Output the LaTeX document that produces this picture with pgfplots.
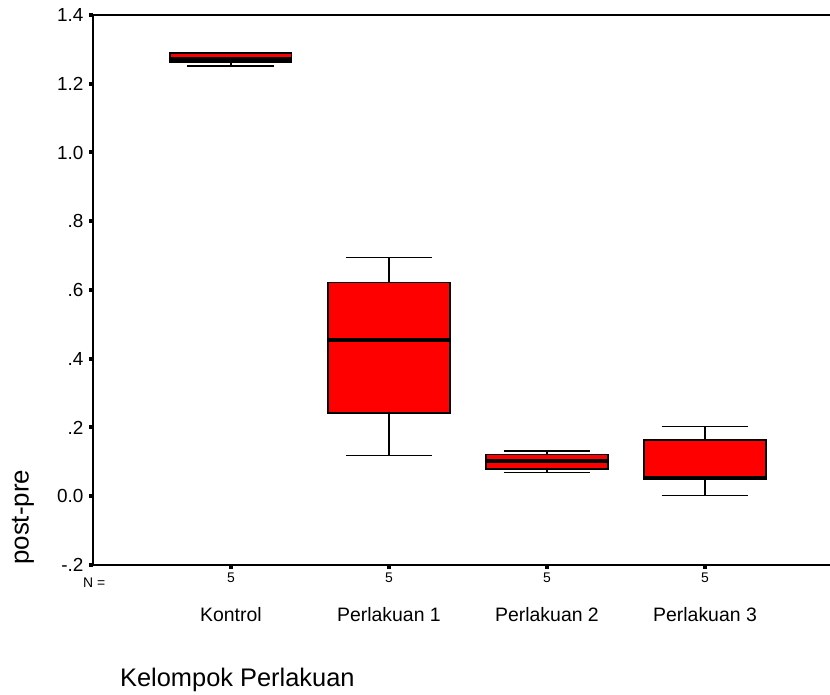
\documentclass[border=0pt]{standalone}
\usepackage{fontspec}
\setmainfont{Liberation Sans}
\usepackage{pgfplots}
\pgfplotsset{compat=1.18}
\usepgfplotslibrary{statistics}
\newcommand{\yl}[1]{{\fontsize{19}{20}\selectfont #1}}
\newcommand{\xl}[1]{{\fontsize{14}{15}\selectfont #1}}
\begin{document}
\begin{tikzpicture}
\begin{axis}[
  /pgf/number format/assume math mode=true,
  at={(93bp,130bp)}, anchor=south west,
  scale only axis, width=740bp, height=550bp,
  xmin=-0.873, xmax=3.81, ymin=-0.2, ymax=1.4,
  clip=false,
  axis line style={line width=1.8bp, black},
  tick align=outside,
  major tick length=4bp,
  every tick/.style={line width=4bp, black},
  xtick={0,1,2,3}, xticklabels={\xl{5},\xl{5},\xl{5},\xl{5}},
  xtick pos=bottom,
  ytick={-0.2,0,0.2,0.4,0.6,0.8,1.0,1.2,1.4},
  yticklabels={\yl{-.2},\yl{0.0},\yl{.2},\yl{.4},\yl{.6},\yl{.8},\yl{1.0},\yl{1.2},\yl{1.4}},
  ytick pos=left,
  xticklabel style={font=\fontsize{14}{15}\selectfont},
  yticklabel style={font=\fontsize{19}{20}\selectfont, xshift=-2bp},
  boxplot/draw direction=y,
  boxplot/every box/.style={draw=black, fill=red, line width=1.4bp},
  boxplot/every whisker/.style={black, line width=1.6bp},
  boxplot/every median/.style={black, line width=4.5bp},
  boxplot/box extend=0.77,
  boxplot/whisker extend=0.55,
]
\addplot+[mark=none, boxplot prepared={draw position=0,
  lower whisker=1.251, lower quartile=1.261, median=1.270,
  upper quartile=1.290, upper whisker=1.290}] coordinates {};
\addplot+[mark=none, boxplot prepared={draw position=1,
  lower whisker=0.119, lower quartile=0.242, median=0.454,
  upper quartile=0.621, upper whisker=0.694}] coordinates {};
\addplot+[mark=none, boxplot prepared={draw position=2,
  lower whisker=0.069, lower quartile=0.079, median=0.102,
  upper quartile=0.121, upper whisker=0.131}] coordinates {};
\addplot+[mark=none, boxplot prepared={draw position=3,
  lower whisker=0.002, lower quartile=0.048, median=0.053,
  upper quartile=0.164, upper whisker=0.203}] coordinates {};
\node at (axis cs:-0.865,-0.2523) {\xl{N =}};
\node[font=\fontsize{19.5}{21}\selectfont] at (axis cs:0,-0.3456) {Kontrol};
\node[font=\fontsize{19.5}{21}\selectfont] at (axis cs:1,-0.3456) {Perlakuan 1};
\node[font=\fontsize{19.5}{21}\selectfont] at (axis cs:2,-0.3456) {Perlakuan 2};
\node[font=\fontsize{19.5}{21}\selectfont] at (axis cs:3,-0.3456) {Perlakuan 3};
\node[font=\fontsize{25.5}{27}\selectfont, anchor=west, inner sep=0pt] at (axis cs:-0.7025,-0.535) {Kelompok Perlakuan};
\node[font=\fontsize{26}{28}\selectfont, rotate=90, anchor=west, inner sep=0pt] at (axis cs:-1.316,-0.2) {post-pre};
\end{axis}
\pgfresetboundingbox
\useasboundingbox (0,0) rectangle (830bp,695bp);
\end{tikzpicture}
\end{document}
